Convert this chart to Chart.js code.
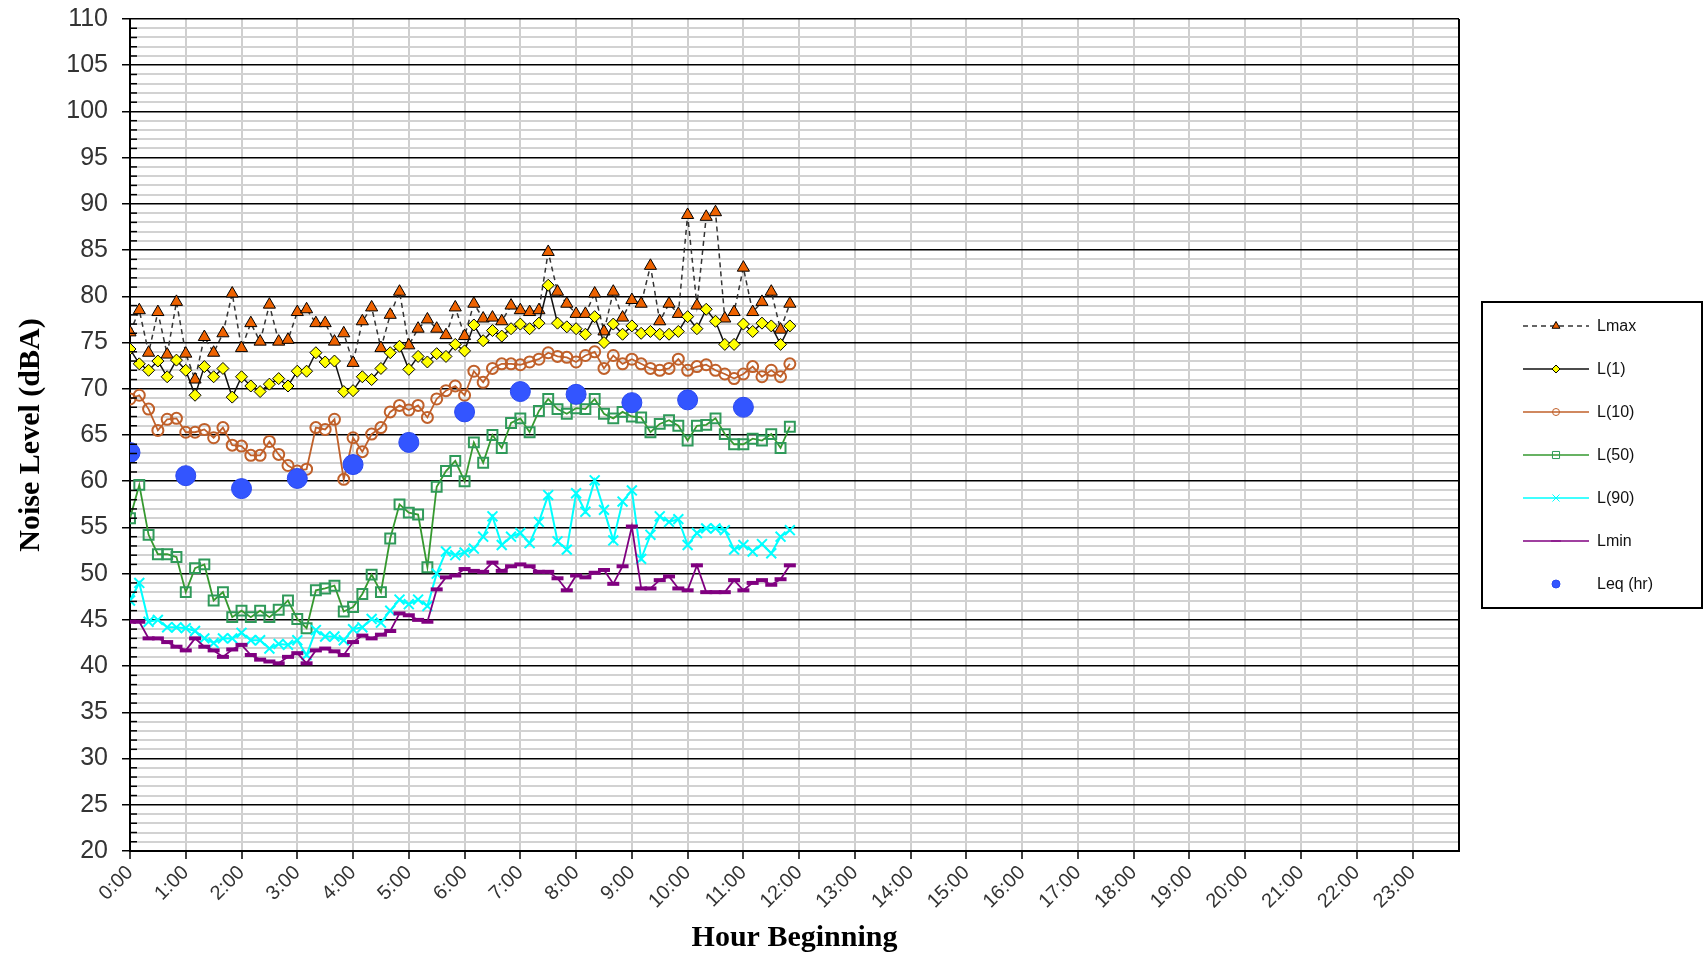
<!DOCTYPE html>
<html>
<head>
<meta charset="utf-8">
<title>Noise Level</title>
<script src="https://cdn.jsdelivr.net/npm/chart.js@4.4.1/dist/chart.umd.min.js"></script>
<style>
    html, body { margin: 0; padding: 0; background: #fff; }
    #wrap { width: 1705px; height: 960px; }
</style>
</head>
<body>
<div id="wrap"><canvas id="noiseChart" width="1705" height="960"></canvas></div>
<script>
// 10-minute readings starting 0:00 (index = minutes / 10)
const lmax = [76.1, 78.5, 73.9, 78.3, 73.7, 79.4, 73.8, 71.0, 75.6, 73.9,
    76.0, 80.3, 74.4, 77.1, 75.1, 79.1, 75.1, 75.3, 78.3, 78.6,
    77.1, 77.1, 75.1, 76.0, 72.8, 77.3, 78.8, 74.4, 78.0, 80.5,
    74.7, 76.5, 77.5, 76.5, 75.8, 78.8, 75.7, 79.2, 77.6, 77.7,
    77.3, 79.0, 78.5, 78.3, 78.5, 84.8, 80.5, 79.2, 78.1, 78.1,
    80.3, 76.2, 80.5, 77.7, 79.6, 79.2, 83.3, 77.3, 79.2, 78.1,
    88.8, 79.0, 88.6, 89.1, 77.6, 78.3, 83.1, 78.3, 79.4, 80.5,
    76.4, 79.2];
const l1 = [74.3, 72.7, 72.0, 73.0, 71.3, 73.1, 72.0, 69.3, 72.4, 71.3,
    72.2, 69.1, 71.3, 70.3, 69.7, 70.5, 71.1, 70.3, 71.9, 71.9,
    73.9, 72.9, 73.0, 69.7, 69.8, 71.3, 71.0, 72.2, 73.9, 74.6,
    72.1, 73.5, 72.9, 73.8, 73.5, 74.8, 74.1, 76.9, 75.2, 76.3,
    75.7, 76.5, 77.0, 76.5, 77.1, 81.2, 77.1, 76.7, 76.5, 75.9,
    77.8, 75.0, 77.0, 75.9, 76.8, 76.0, 76.2, 75.9, 75.9, 76.2,
    77.8, 76.5, 78.6, 77.3, 74.8, 74.8, 77.0, 76.2, 77.1, 76.8,
    74.8, 76.8];
const l10 = [68.9, 69.3, 67.8, 65.5, 66.7, 66.8, 65.3, 65.3, 65.6, 64.7,
    65.8, 63.9, 63.8, 62.8, 62.8, 64.3, 62.9, 61.7, 61.1, 61.3,
    65.8, 65.6, 66.7, 60.2, 64.7, 63.2, 65.1, 65.8, 67.5, 68.2,
    67.7, 68.2, 66.9, 68.9, 69.8, 70.3, 69.3, 71.9, 70.7, 72.2,
    72.7, 72.7, 72.6, 72.9, 73.2, 73.9, 73.5, 73.4, 72.9, 73.6,
    74.0, 72.2, 73.6, 72.7, 73.2, 72.7, 72.2, 72.0, 72.2, 73.2,
    72.0, 72.4, 72.6, 72.0, 71.6, 71.1, 71.6, 72.4, 71.3, 72.0,
    71.3, 72.7];
const l50 = [56.0, 59.6, 54.2, 52.1, 52.1, 51.8, 48.0, 50.6, 51.0, 47.1,
    48.0, 45.3, 46.0, 45.3, 46.0, 45.3, 46.1, 47.1, 45.1, 44.1,
    48.2, 48.4, 48.7, 45.9, 46.4, 47.8, 49.9, 48.0, 53.8, 57.5,
    56.6, 56.4, 50.7, 59.4, 61.1, 62.2, 60.0, 64.2, 62.0, 65.0,
    63.6, 66.3, 66.8, 65.3, 67.6, 68.9, 67.8, 67.3, 67.9, 67.8,
    68.9, 67.3, 66.8, 67.5, 67.0, 66.9, 65.3, 66.2, 66.6, 66.0,
    64.4, 66.0, 66.1, 66.8, 65.1, 64.0, 64.0, 64.6, 64.4, 65.1,
    63.6, 65.9];
const l90 = [47.1, 49.0, 44.8, 45.0, 44.2, 44.2, 44.1, 43.8, 43.0, 42.5,
    43.0, 43.0, 43.6, 42.8, 42.8, 41.9, 42.4, 42.3, 42.8, 41.2,
    43.9, 43.2, 43.2, 42.8, 44.0, 44.2, 45.1, 44.7, 46.0, 47.2,
    46.7, 47.2, 46.5, 50.0, 52.4, 52.0, 52.3, 52.7, 54.0, 56.2,
    53.1, 54.0, 54.4, 53.3, 55.6, 58.5, 53.5, 52.6, 58.7, 56.7,
    60.1, 56.9, 53.6, 57.8, 59.0, 51.6, 54.2, 56.2, 55.6, 55.9,
    53.1, 54.4, 54.9, 54.9, 54.7, 52.6, 53.1, 52.4, 53.2, 52.2,
    54.0, 54.7];
const lmin = [44.8, 44.8, 43.0, 43.0, 42.6, 42.1, 41.7, 43.0, 42.1, 41.7,
    41.0, 41.8, 42.3, 41.2, 40.7, 40.5, 40.3, 41.0, 41.4, 40.3,
    41.7, 41.9, 41.6, 41.2, 42.6, 43.3, 43.0, 43.4, 43.8, 45.7,
    45.5, 45.0, 44.8, 48.3, 49.6, 49.8, 50.5, 50.3, 50.2, 51.2,
    50.3, 50.8, 51.0, 50.8, 50.2, 50.2, 49.5, 48.2, 49.8, 49.6,
    50.1, 50.4, 48.9, 50.8, 55.1, 48.4, 48.4, 49.3, 49.7, 48.4,
    48.2, 50.9, 48.0, 48.0, 48.0, 49.3, 48.2, 49.0, 49.3, 48.8,
    49.4, 50.9];

// hourly Leq, 0:00 .. 11:00
const leqHours = [0, 1, 2, 3, 4, 5, 6, 7, 8, 9, 10, 11];
const leq = [63.1, 60.6, 59.2, 60.3, 61.8, 64.2, 67.5, 69.7, 69.4, 68.5, 68.8, 68.0];

const seriesNames = ['Lmax', 'L(1)', 'L(10)', 'L(50)', 'L(90)', 'Lmin', 'Leq (hr)'];

// helpers
function toPoints(arr) {
    return arr.map((v, i) => ({ x: i, y: v }));
}

const axisFont = { family: "'Liberation Sans', Arial, sans-serif" };
const titleFont = { family: "'Liberation Serif', 'Times New Roman', serif", size: 30, weight: 'bold' };

// Draws the boxed legend on the right, the right border and minor inside ticks
const extrasPlugin = {
    id: 'extras',
    afterDraw(chart) {
        const ctx = chart.ctx;
        const area = chart.chartArea;
        const yScale = chart.scales.y;

        ctx.save();
        // right border of plot
        ctx.strokeStyle = '#000';
        ctx.lineWidth = 2;
        ctx.beginPath();
        ctx.moveTo(area.right, area.top);
        ctx.lineTo(area.right, area.bottom);
        ctx.stroke();

        // minor ticks inside the y axis
        ctx.lineWidth = 1.5;
        for (let v = 21; v < 110; v++) {
            if (v % 5 === 0) continue;
            const y = yScale.getPixelForValue(v);
            ctx.beginPath();
            ctx.moveTo(area.left, y);
            ctx.lineTo(area.left + 7, y);
            ctx.stroke();
        }

        // legend
        const box = { left: 1482, top: 302, right: 1702, bottom: 608 };
        ctx.fillStyle = '#fff';
        ctx.fillRect(box.left, box.top, box.right - box.left, box.bottom - box.top);
        ctx.strokeStyle = '#000';
        ctx.lineWidth = 2;
        ctx.strokeRect(box.left, box.top, box.right - box.left, box.bottom - box.top);

        ctx.font = "16px 'Liberation Sans', Arial, sans-serif";
        ctx.textBaseline = 'middle';
        ctx.textAlign = 'left';

        chart.data.datasets.forEach((ds, k) => {
            const y = 326 + k * 43;
            if (ds.showLine !== false) {
                ctx.strokeStyle = ds.borderColor;
                ctx.lineWidth = 1.5;
                ctx.setLineDash(ds.borderDash || []);
                ctx.beginPath();
                ctx.moveTo(1523, y);
                ctx.lineTo(1589, y);
                ctx.stroke();
                ctx.setLineDash([]);
            }
            ctx.fillStyle = ds.pointBackgroundColor;
            ctx.strokeStyle = ds.pointBorderColor;
            ctx.lineWidth = 1;
            Chart.helpers.drawPoint(ctx, {
                pointStyle: ds.pointStyle,
                radius: ds.legendRadius,
                borderWidth: ds.legendBorder,
                rotation: 0
            }, 1556, y);
            ctx.fillStyle = '#111';
            ctx.fillText(ds.label, 1597, y + 1);
        });
        ctx.restore();
    }
};

const chartCtx = document.getElementById('noiseChart');

new Chart(chartCtx, {
    type: 'line',
    data: {
        datasets: [
            {
                label: seriesNames[0],
                data: toPoints(lmax),
                borderColor: '#333',
                borderWidth: 1.5,
                borderDash: [5, 4],
                pointStyle: 'triangle',
                pointRadius: 7,
                pointBackgroundColor: '#ee6200',
                pointBorderColor: '#000',
                pointBorderWidth: 1,
                legendRadius: 4.5,
                legendBorder: 1,
                order: 6
            },
            {
                label: seriesNames[1],
                data: toPoints(l1),
                borderColor: '#111',
                borderWidth: 1.5,
                pointStyle: 'rectRot',
                pointRadius: 6,
                pointBackgroundColor: '#ffff00',
                pointBorderColor: '#000',
                pointBorderWidth: 1,
                legendRadius: 4,
                legendBorder: 1,
                order: 5
            },
            {
                label: seriesNames[2],
                data: toPoints(l10),
                borderColor: '#c0602a',
                borderWidth: 1.8,
                pointStyle: 'circle',
                pointRadius: 5.5,
                pointBackgroundColor: 'rgba(0,0,0,0)',
                pointBorderColor: '#c0602a',
                pointBorderWidth: 2,
                legendRadius: 3.5,
                legendBorder: 2,
                order: 4
            },
            {
                label: seriesNames[3],
                data: toPoints(l50),
                borderColor: '#35992f',
                borderWidth: 1.8,
                pointStyle: 'rect',
                pointRadius: 7,
                pointBackgroundColor: 'rgba(0,0,0,0)',
                pointBorderColor: '#2f9a5a',
                pointBorderWidth: 2,
                legendRadius: 5,
                legendBorder: 2,
                order: 3
            },
            {
                label: seriesNames[4],
                data: toPoints(l90),
                borderColor: '#00ffff',
                borderWidth: 2,
                pointStyle: 'crossRot',
                pointRadius: 7,
                pointBackgroundColor: '#00ffff',
                pointBorderColor: '#00ffff',
                pointBorderWidth: 2,
                legendRadius: 5,
                legendBorder: 2,
                order: 2
            },
            {
                label: seriesNames[5],
                data: toPoints(lmin),
                borderColor: '#800080',
                borderWidth: 1.8,
                pointStyle: 'line',
                pointRadius: 6,
                pointBackgroundColor: '#800080',
                pointBorderColor: '#800080',
                pointBorderWidth: 4,
                legendRadius: 5,
                legendBorder: 4,
                order: 1
            },
            {
                label: seriesNames[6],
                data: leq.map((v, i) => ({ x: leqHours[i] * 6, y: v })),
                showLine: false,
                pointStyle: 'circle',
                pointRadius: 10,
                pointBackgroundColor: '#3355ff',
                pointBorderColor: '#2a48f0',
                pointBorderWidth: 1,
                legendRadius: 4,
                legendBorder: 1,
                order: 0
            }
        ]
    },
    options: {
        responsive: false,
        animation: false,
        layout: {
            padding: { top: 19, right: 246, left: 0, bottom: 0 }
        },
        plugins: {
            legend: { display: false },
            tooltip: { enabled: false }
        },
        scales: {
            x: {
                type: 'linear',
                min: 0,
                max: 143,
                afterFit: (scale) => { scale.height = 109; },
                ticks: {
                    stepSize: 6,
                    includeBounds: false,
                    autoSkip: false,
                    minRotation: 45,
                    maxRotation: 45,
                    padding: 2,
                    color: '#333',
                    font: { ...axisFont, size: 20 },
                    callback: function(value) {
                        return (value / 6) + ':00';
                    }
                },
                grid: {
                    color: '#cfcfcf',
                    lineWidth: 2,
                    tickLength: 8,
                    tickColor: '#000',
                    tickWidth: 1.5
                },
                border: { color: '#000', width: 2 },
                title: {
                    display: true,
                    text: 'Hour Beginning',
                    color: '#000',
                    font: titleFont,
                    padding: { top: 0, bottom: 4 }
                }
            },
            y: {
                min: 20,
                max: 110,
                afterFit: (scale) => {
                    scale.width = 130;
                    scale.paddingTop = 0;
                    scale.paddingBottom = 0;
                },
                ticks: {
                    stepSize: 1,
                    autoSkip: false,
                    padding: 14,
                    color: '#333',
                    font: { ...axisFont, size: 25, lineHeight: 1 },
                    callback: function(value) {
                        return value % 5 === 0 ? value : '';
                    }
                },
                grid: {
                    color: (c) => (c.tick && c.tick.value % 5 === 0) ? '#000' : '#d2d2d2',
                    lineWidth: (c) => (c.tick && c.tick.value % 5 === 0) ? 1.5 : 2,
                    tickLength: 8,
                    tickColor: (c) => (c.tick && c.tick.value % 5 === 0) ? '#000' : 'rgba(0,0,0,0)'
                },
                border: { color: '#000', width: 2 },
                title: {
                    display: true,
                    text: 'Noise Level (dBA)',
                    color: '#000',
                    font: titleFont,
                    padding: { top: 13, bottom: 10 }
                }
            }
        }
    },
    plugins: [extrasPlugin]
});
</script>
</body>
</html>
